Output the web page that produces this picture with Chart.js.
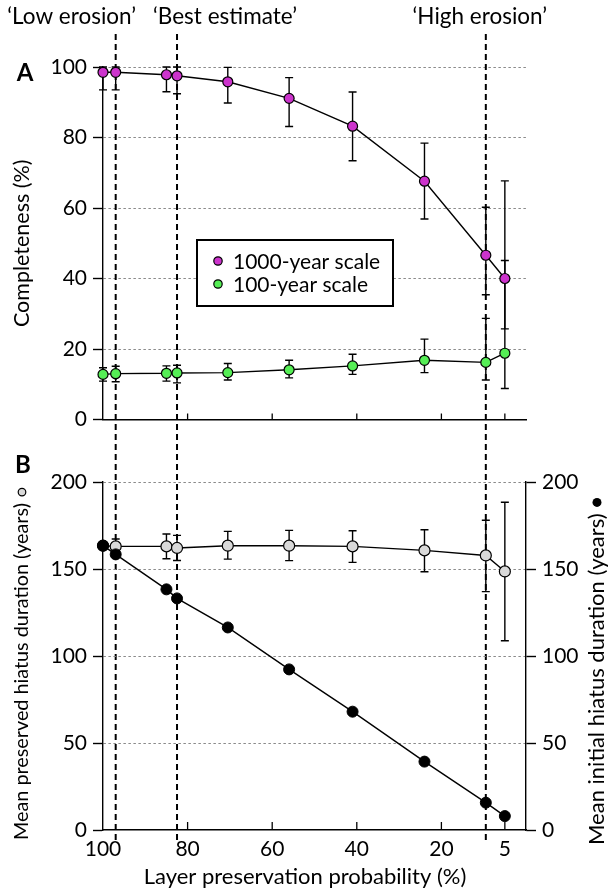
<!DOCTYPE html>
<html><head><meta charset="utf-8">
<script src="https://cdn.jsdelivr.net/npm/chart.js@4"></script>
<style>
html,body{margin:0;padding:0;background:#fff;}
#wrap{position:relative;width:614px;height:890px;background:#fff;}
#wrap canvas{position:absolute;left:0;top:0;}
</style></head><body>
<div id="wrap"><canvas id="cA" width="614" height="890"></canvas><canvas id="cB" width="614" height="890"></canvas></div>
<script>
// ---------- data ----------
const xValues = [100, 97, 85, 82.5, 70.5, 56, 41, 24, 9.5, 5];
const xTickValues = [100, 80, 60, 40, 20, 5];
const xTickLabels = ['100', '80', '60', '40', '20', '5'];
const scenarioX = [97, 82.5, 9.5];
const scenarioLabels = ['\u2018Low erosion\u2019', '\u2018Best estimate\u2019', '\u2018High erosion\u2019'];

const completenessTicks = [0, 20, 40, 60, 80, 100];
const hiatusTicks = [0, 50, 100, 150, 200];

const c1000 = [98.5, 98.5, 97.8, 97.5, 95.8, 91.1, 83.2, 67.6, 46.6, 40.0];
const c1000Hi = [100, 100, 100, 100, 99.9, 97.0, 92.9, 78.4, 60.2, 67.7];
const c1000Lo = [93.5, 93.5, 93.0, 92.4, 89.8, 83.1, 73.4, 56.9, 35.4, 25.7];

const c100 = [12.8, 13.0, 13.1, 13.2, 13.3, 14.1, 15.2, 16.8, 16.2, 18.8];
const c100Hi = [14.7, 15.1, 15.2, 15.4, 15.9, 16.8, 18.5, 22.8, 28.7, 45.1];
const c100Lo = [10.9, 10.7, 10.9, 10.4, 11.2, 11.8, 12.8, 13.3, 11.2, 8.8];

const preserved = [163.4, 163.0, 163.0, 162.1, 163.4, 163.4, 163.0, 160.7, 157.8, 148.6];
const preservedHi = [null, 167.2, 170.1, 169.3, 171.6, 172.2, 172.0, 172.6, 178.0, 188.4];
const preservedLo = [null, 159.0, 155.9, 154.9, 155.7, 154.8, 153.8, 148.4, 137.0, 108.8];

const initial = [163.4, 158.4, 138.3, 133.1, 116.4, 92.3, 68.0, 39.3, 15.7, 8.0];

const labels1000 = '1000-year scale';
const labels100 = '100-year scale';
const titleA = 'Completeness (%)';
const titleBLeft = 'Mean preserved hiatus duration (years)';
const titleBRight = 'Mean initial hiatus duration (years)';
const titleX = 'Layer preservation probability (%)';

// ---------- style ----------
const FONT = 'Lato';
const FS_TICK = 21, FS_LEG = 21, FS_TOP = 22.5, FS_XT = 22, FS_YT = 21.5, FS_YTL = 19.8, FS_YTR = 22;
const GRID = '#8a8a8a';
Chart.defaults.font.family = FONT;
Chart.defaults.color = '#000';

const pts = arr => arr.map((v, i) => ({x: xValues[i], y: v}));

function errorBarPlugin(id) {
  return {
    id,
    beforeDatasetsDraw(chart) {
      const ctx = chart.ctx;
      chart.data.datasets.forEach((ds, i) => {
        if (!ds.errHi) return;
        const meta = chart.getDatasetMeta(i);
        const ys = chart.scales[meta.yAxisID];
        ctx.save();
        ctx.strokeStyle = '#000';
        ctx.lineWidth = 1.4;
        meta.data.forEach((el, j) => {
          const hi = ds.errHi[j], lo = ds.errLo[j];
          if (hi == null || lo == null) return;
          const x = el.x, y1 = ys.getPixelForValue(hi), y2 = ys.getPixelForValue(lo);
          ctx.beginPath();
          ctx.moveTo(x, y1); ctx.lineTo(x, y2);
          ctx.moveTo(x - 4, y1); ctx.lineTo(x + 4, y1);
          ctx.moveTo(x - 4, y2); ctx.lineTo(x + 4, y2);
          ctx.stroke();
        });
        ctx.restore();
      });
    }
  };
}

function innerTicksPlugin(id, len) {
  return {
    id,
    afterDatasetsDraw(chart) {
      const ctx = chart.ctx, xs = chart.scales.x, a = chart.chartArea;
      ctx.save();
      ctx.strokeStyle = '#000';
      ctx.lineWidth = 1.3;
      xs.ticks.forEach(t => {
        const px = xs.getPixelForValue(t.value);
        if (Math.abs(px - a.left) < 2) return;
        ctx.beginPath();
        ctx.moveTo(px, a.bottom);
        ctx.lineTo(px, a.bottom - len);
        ctx.stroke();
      });
      ctx.restore();
    }
  };
}

function rotText(ctx, text, x, y, align) {
  ctx.save();
  ctx.translate(x, y);
  ctx.rotate(-Math.PI / 2);
  ctx.textAlign = align;
  ctx.textBaseline = 'middle';
  ctx.fillText(text, 0, 0);
  const w = ctx.measureText(text).width;
  ctx.restore();
  return w;
}

const xScaleBase = {
  type: 'linear', min: 0, max: 100, reverse: true,
  afterBuildTicks: s => { s.ticks = xTickValues.map(v => ({value: v})); },
};

// ---------- chart A ----------
const decorA = {
  id: 'decorA',
  beforeDatasetsDraw(chart) {
    const ctx = chart.ctx, xs = chart.scales.x;
    ctx.save();
    ctx.strokeStyle = '#000';
    ctx.lineWidth = 2;
    ctx.setLineDash([6, 4]);
    scenarioX.forEach(v => {
      const px = xs.getPixelForValue(v);
      ctx.beginPath();
      ctx.moveTo(px, 34);
      ctx.lineTo(px, 843);
      ctx.stroke();
    });
    ctx.restore();
  },
  afterDraw(chart) {
    const ctx = chart.ctx, xs = chart.scales.x;
    ctx.save();
    ctx.fillStyle = '#000';
    ctx.font = FS_TOP + 'px ' + FONT;
    ctx.textAlign = 'center';
    ctx.textBaseline = 'middle';
    const offs = [-44, 48, -6];
    scenarioX.forEach((v, i) => {
      ctx.fillText(scenarioLabels[i], xs.getPixelForValue(v) + offs[i], 17);
    });
    // panel letter
    ctx.font = 'bold 24px ' + FONT;
    ctx.fillText('A', 25, 73);
    // axis title
    ctx.font = FS_YT + 'px ' + FONT;
    const a = chart.chartArea;
    rotText(ctx, titleA, 22, (a.top + a.bottom) / 2, 'center');
    // legend
    const bx = 197, by = 240, bw = 196, bh = 66;
    ctx.lineWidth = 2;
    ctx.strokeStyle = '#000';
    ctx.fillStyle = '#fff';
    ctx.fillRect(bx, by, bw, bh);
    ctx.strokeRect(bx, by, bw, bh);
    ctx.font = FS_LEG + 'px ' + FONT;
    chart.data.datasets.forEach((ds, i) => {
      const cy = by + 21 + i * 23;
      ctx.beginPath();
      ctx.arc(bx + 21, cy, 4.2, 0, Math.PI * 2);
      ctx.fillStyle = ds.pointBackgroundColor;
      ctx.fill();
      ctx.lineWidth = 1.2;
      ctx.stroke();
      ctx.fillStyle = '#000';
      ctx.textAlign = 'left';
      ctx.fillText(ds.label, bx + 36, cy + 1);
    });
    ctx.restore();
  }
};

new Chart(document.getElementById('cA'), {
  type: 'line',
  data: {
    datasets: [
      {label: labels1000, data: pts(c1000), errHi: c1000Hi, errLo: c1000Lo, clip: false,
       borderColor: '#000', borderWidth: 1.4, pointBackgroundColor: '#cc33cc', pointBorderColor: '#000',
       pointBorderWidth: 1.2, pointRadius: 5, yAxisID: 'y'},
      {label: labels100, data: pts(c100), errHi: c100Hi, errLo: c100Lo, clip: false,
       borderColor: '#000', borderWidth: 1.4, pointBackgroundColor: '#55ee55', pointBorderColor: '#000',
       pointBorderWidth: 1.2, pointRadius: 5, yAxisID: 'y'}
    ]
  },
  options: {
    responsive: false, animation: false, devicePixelRatio: 1,
    layout: {padding: {top: 67, right: 88, bottom: 460.5, left: 0}},
    plugins: {legend: {display: false}, tooltip: {enabled: false}},
    scales: {
      x: Object.assign({}, xScaleBase, {
        ticks: {display: false},
        grid: {display: false, drawTicks: false},
        border: {display: true, color: '#000', width: 1.4},
        afterFit: s => { s.height = 10; }
      }),
      y: {
        min: 0, max: 100,
        afterBuildTicks: s => { s.ticks = completenessTicks.map(v => ({value: v})); },
        ticks: {font: {size: FS_TICK}, padding: 6, color: '#000'},
        grid: {color: c => (c.tick && c.tick.value === 0) ? 'rgba(0,0,0,0)' : GRID, lineWidth: 1,
               drawTicks: true, tickLength: 10, tickColor: '#000', tickWidth: 1.4},
        border: {display: true, color: '#000', width: 1.4, dash: [2.5, 2.5]},
        afterFit: s => { s.width = 103; }
      }
    }
  },
  plugins: [decorA, errorBarPlugin('errA'), innerTicksPlugin('tickA', 6)]
});

// ---------- chart B ----------
const decorB = {
  id: 'decorB',
  afterDraw(chart) {
    const ctx = chart.ctx;
    ctx.save();
    ctx.fillStyle = '#000';
    ctx.font = 'bold 24px ' + FONT;
    ctx.textAlign = 'center';
    ctx.textBaseline = 'middle';
    ctx.fillText('B', 23, 465);
    ctx.font = FS_XT + 'px ' + FONT;
    ctx.fillText(titleX, 305, 877);
    ctx.font = FS_YTL + 'px ' + FONT;
    const wl = rotText(ctx, titleBLeft, 22, 840, 'left');
    ctx.font = FS_YTR + 'px ' + FONT;
    const wr = rotText(ctx, titleBRight, 597, 845, 'left');
    ctx.lineWidth = 1.2;
    ctx.strokeStyle = '#000';
    ctx.beginPath();
    ctx.arc(22, 840 - wl - 11, 3.8, 0, Math.PI * 2);
    ctx.fillStyle = '#d9d9d9';
    ctx.fill(); ctx.stroke();
    ctx.beginPath();
    ctx.arc(597, 845 - wr - 11, 4.5, 0, Math.PI * 2);
    ctx.fillStyle = '#000';
    ctx.fill();
    ctx.restore();
  }
};

const yB = {
  min: 0, max: 200,
  afterBuildTicks: s => { s.ticks = hiatusTicks.map(v => ({value: v})); },
  ticks: {font: {size: FS_TICK}, padding: 6, color: '#000'},
};

new Chart(document.getElementById('cB'), {
  type: 'line',
  data: {
    datasets: [
      {label: 'preserved', data: pts(preserved), errHi: preservedHi, errLo: preservedLo, clip: false, order: 2,
       borderColor: '#000', borderWidth: 1.4, pointBackgroundColor: '#d9d9d9', pointBorderColor: '#000',
       pointBorderWidth: 1.2, pointRadius: 5.5, yAxisID: 'y'},
      {label: 'initial', data: pts(initial), clip: false, order: 1,
       borderColor: '#000', borderWidth: 1.4, pointBackgroundColor: '#000', pointBorderColor: '#000',
       pointBorderWidth: 1, pointRadius: 5.5, yAxisID: 'yR'}
    ]
  },
  options: {
    responsive: false, animation: false, devicePixelRatio: 1,
    layout: {padding: {top: 482, right: 0, bottom: 0, left: 0}},
    plugins: {legend: {display: false}, tooltip: {enabled: false}},
    scales: {
      x: Object.assign({}, xScaleBase, {
        ticks: {display: true, font: {size: FS_TICK}, padding: 7, color: '#000', maxRotation: 0, autoSkip: false,
                callback: (v, i) => xTickLabels[i]},
        grid: {display: false, drawTicks: false},
        border: {display: true, color: '#000', width: 1.4},
        afterFit: s => { s.height = 60; }
      }),
      y: Object.assign({}, yB, {
        position: 'left',
        grid: {color: c => (c.tick && c.tick.value === 0) ? 'rgba(0,0,0,0)' : GRID, lineWidth: 1,
               drawTicks: true, tickLength: 10, tickColor: '#000', tickWidth: 1.4},
        border: {display: true, color: '#000', width: 1.4, dash: [2.5, 2.5]},
        afterFit: s => { s.width = 103; }
      }),
      yR: Object.assign({}, yB, {
        position: 'right',
        grid: {drawOnChartArea: false, drawTicks: true, tickLength: 10, tickColor: '#000', tickWidth: 1.4, color: '#000'},
        border: {display: true, color: '#000', width: 1.4},
        afterFit: s => { s.width = 88; }
      })
    }
  },
  plugins: [decorB, errorBarPlugin('errB'), innerTicksPlugin('tickB', 8)]
});
</script>
</body></html>
